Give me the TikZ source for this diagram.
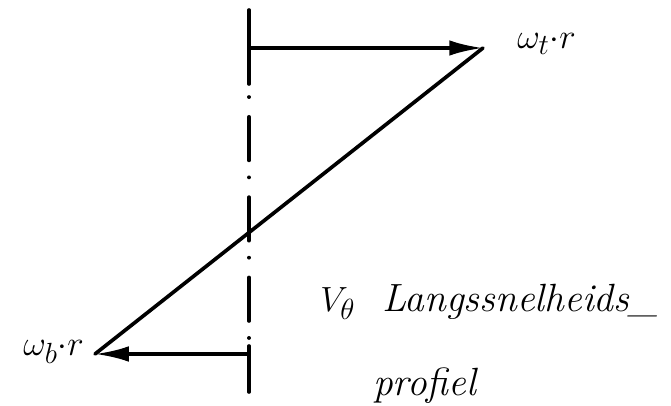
\documentclass[tikz,border=0pt]{standalone}
\usetikzlibrary{arrows.meta}

\tikzset{
    profiel lijn/.style={line width=2.6pt, line cap=round},
    snelheid/.style={profiel lijn, -{Latex[length=24pt,width=11pt]}},
    hand tekst/.style={font=\fontsize{28}{32}\selectfont\itshape, inner sep=0pt}
}

\begin{document}
\begin{tikzpicture}[x=0.025cm, y=-0.025cm]
    \useasboundingbox (0,0) rectangle (671,406);

    % Axis (solid ends, dash-dot middle)
    \coordinate (as boven) at (249,10);
    \coordinate (as onder) at (249,392);
    \coordinate (as t) at (249,48);
    \coordinate (as b) at (249,354);
    \draw[profiel lijn] (as boven) -- (249,84);
    \draw[profiel lijn, dash pattern=on 0.1pt off 14pt on 31pt off 12pt] (249,97) -- (249,340);
    \draw[profiel lijn] (249,346) -- (as onder);

    % Velocity vectors
    \coordinate (tip t) at (483,48);
    \coordinate (tip b) at (95,354);
    \draw[snelheid] (as t) -- (tip t);
    \draw[snelheid] (as b) -- (tip b);

    % Profile line
    \draw[profiel lijn] (tip t) -- (tip b);

    % Labels
    \node[hand tekst, anchor=west] (label t) at (517,44) {$\omega_t{\cdot}r$};
    \node[hand tekst, anchor=east] (label b) at (84,352) {$\omega_b{\cdot}r$};
    \node[hand tekst, anchor=west] (titel) at (320,302) {$V_\theta$\ \ Langssnelheids\_};
    \node[hand tekst, anchor=west] (profiel) at (373,386) {profiel};
\end{tikzpicture}
\end{document}
